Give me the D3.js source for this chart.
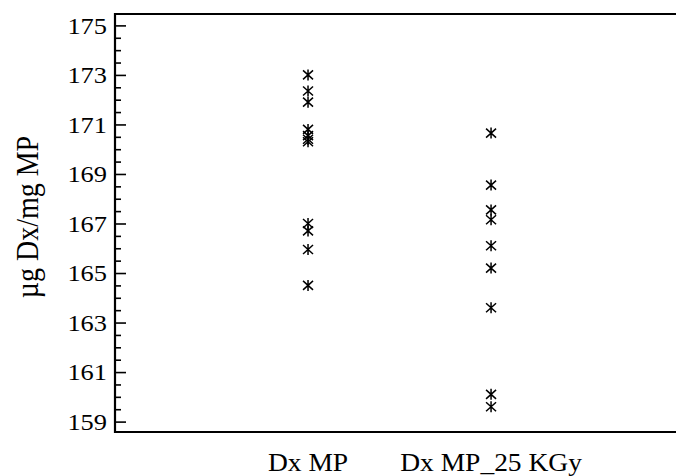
<!DOCTYPE html>
<html>
<head>
<meta charset="utf-8">
<script src="https://cdn.jsdelivr.net/npm/d3@7"></script>
<style>
  html, body { margin: 0; padding: 0; background: #fff; }
  svg { display: block; }
  text { font-family: "Times New Roman", "Liberation Serif", "DejaVu Serif", serif; fill: #000; }
</style>
</head>
<body>
<script>
// ---- data ----
const categories = ["Dx MP", "Dx MP_25 KGy"];
const dxMP = [173.0, 172.35, 171.9, 170.8, 170.55, 170.4, 170.3, 167.0, 166.7, 165.95, 164.5];
const dxMP25 = [170.65, 168.55, 167.55, 167.15, 166.1, 165.2, 163.6, 160.1, 159.6];
const yTicks = [159, 161, 163, 165, 167, 169, 171, 173, 175];
const yLabel = "µg Dx/mg MP";

const W = 676, H = 476;
const mLeft = 115, mTop = 14, mRight = 688, mBottom = 432;
const FONT = "'Times New Roman', 'Liberation Serif', 'DejaVu Serif', serif";

const svg = d3.select("body").append("svg").attr("width", W).attr("height", H);

const y = d3.scaleLinear().domain([158.58, 175.46]).range([mBottom, mTop]);
const x = d3.scaleLinear().domain([-0.0546, 3.076]).range([mLeft, mRight]);
const xPos = [1, 2];

// minor ticks
const minor = d3.range(159, 175.01, 0.5).filter(v => !yTicks.includes(v));

// left axis: minor ticks via d3 axis
const gL = svg.append("g").attr("transform", `translate(${mLeft},0)`);
gL.append("g").call(d3.axisRight(y).tickValues(minor).tickSize(6).tickFormat(""))
  .call(g => g.select(".domain").remove())
  .call(g => g.selectAll("line").attr("stroke", "#000").attr("stroke-width", 1.6));
// major ticks via d3 axis (inward)
gL.append("g").call(d3.axisRight(y).tickValues(yTicks).tickSize(11).tickFormat(""))
  .call(g => g.select(".domain").remove())
  .call(g => g.selectAll("line").attr("stroke", "#000").attr("stroke-width", 1.6));
// tick labels
gL.append("g").selectAll("text").data(yTicks).join("text")
  .attr("transform", d => `translate(-8,${y(d)}) scale(1.1,1)`)
  .attr("text-anchor", "end").attr("dy", "0.34em")
  .style("font-family", FONT).style("font-size", "24px")
  .text(d3.format("d"));

// right axis (mostly off-canvas)
svg.append("g").attr("transform", `translate(${mRight},0)`)
  .call(d3.axisLeft(y).tickValues(yTicks).tickSize(12).tickFormat(""))
  .call(g => g.select(".domain").remove())
  .call(g => g.selectAll("line").attr("stroke", "#000").attr("stroke-width", 1.6));

// frame
svg.append("line").attr("x1", mLeft).attr("x2", mLeft).attr("y1", mTop - 1).attr("y2", mBottom + 1)
  .attr("stroke", "#000").attr("stroke-width", 2.2);
svg.append("line").attr("x1", mLeft).attr("x2", W + 5).attr("y1", mTop).attr("y2", mTop)
  .attr("stroke", "#000").attr("stroke-width", 2.2);
svg.append("line").attr("x1", mLeft).attr("x2", W + 5).attr("y1", mBottom).attr("y2", mBottom)
  .attr("stroke", "#000").attr("stroke-width", 2.2);

// x category labels
svg.append("g").selectAll("text").data(categories).join("text")
  .attr("transform", (d, i) => `translate(${x(xPos[i])},471) scale(1.1,1)`)
  .attr("text-anchor", "middle")
  .style("font-family", FONT).style("font-size", "25px").text(d => d);

// y label
svg.append("text").attr("transform", `translate(38,217) scale(1.12,1) rotate(-90)`)
  .attr("text-anchor", "middle")
  .style("font-family", FONT).style("font-size", "28px").text(yLabel);

// asterisk markers
const star = "M0,-5.5L0,5.5M-5,-4.5L5,4.5M-5,4.5L5,-4.5";
const series = [dxMP, dxMP25];
series.forEach((vals, i) => {
  svg.append("g").selectAll("path").data(vals).join("path")
    .attr("transform", d => `translate(${x(xPos[i])},${y(d)})`)
    .attr("d", star).attr("fill", "none").attr("stroke", "#000").attr("stroke-width", 1.5);
});
</script>
</body>
</html>
